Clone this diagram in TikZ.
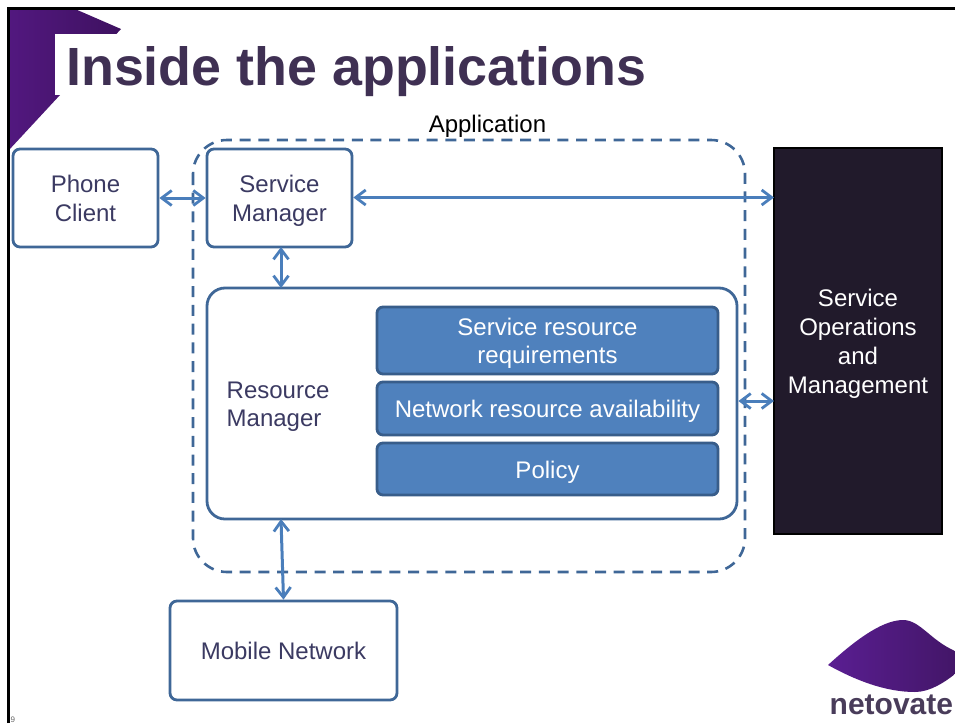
\documentclass[tikz,border=0pt]{standalone}
\usepackage{fontspec}
\setmainfont{Liberation Sans}
\usetikzlibrary{arrows.meta}
\definecolor{boxline}{HTML}{3F6797}
\definecolor{boxfill}{HTML}{4F81BD}
\definecolor{boxedge}{HTML}{385D8A}
\definecolor{arrowline}{HTML}{4A7EBB}
\definecolor{bodytext}{HTML}{3B3A62}
\definecolor{titletext}{HTML}{3F3053}
\definecolor{opsfill}{HTML}{211A2B}
\definecolor{cornerlight}{HTML}{52187F}
\definecolor{cornerdark}{HTML}{3E1160}
\definecolor{logomid}{HTML}{7527AF}
\definecolor{logoleft}{HTML}{5A1E92}
\definecolor{logoright}{HTML}{431668}
\newcommand{\firstrow}{\rule{0pt}{24pt}}
\newcommand{\lastrow}{\rule[-6pt]{0pt}{0pt}}
\tikzset{
  bodyfont/.style={font=\fontsize{24}{28.8}\selectfont, align=center},
  oneline/.style={execute at begin node=\rule{0pt}{24pt}, execute at end node=\rule[-6pt]{0pt}{0pt}},
  plainbox/.style={draw=boxline, line width=2.8pt, rounded corners=7pt, fill=white,
    text=bodytext, bodyfont, inner sep=0pt},
  solidbox/.style={draw=boxedge, line width=2.8pt, rounded corners=6pt, fill=boxfill,
    text=white, bodyfont, inner sep=0pt},
  link/.style={draw=arrowline, line width=3pt, {Straight Barb[length=10pt,width=15pt,line width=2.8pt]}-{Straight Barb[length=10pt,width=15pt,line width=2.8pt]}}
}
\begin{document}
\begin{tikzpicture}[x=1pt, y=-1pt]
  \useasboundingbox (0, 0) rectangle (955, 723);
  \clip (0, 0) rectangle (955, 723);
  % Draw the slide corner and its frame
  \begin{scope}
    \shade[left color=cornerlight, right color=cornerdark, draw=none]
      (9, 9) -- (75, 9) -- (121, 29) -- (60, 95) -- (9, 150) -- cycle;
    \fill[white] (55, 34) rectangle (400, 95);
    \draw[line width=3pt, black] (8.5, 723) -- (8.5, 8.5) -- (955, 8.5);
  \end{scope}
  \node[anchor=base west, inner sep=0pt, text=titletext, font=\fontsize{53.8}{60}\selectfont\bfseries]
    (title) at (66, 85) {Inside the applications};
  \node[anchor=base west, inner sep=0pt, text=black!60, font=\fontsize{8}{8}\selectfont]
    (pagenum) at (10.5, 722) {9};
  % Draw the application boundary
  \draw[boxline, line width=2.6pt, dash pattern=on 11pt off 7.7pt, rounded corners=34pt]
    (193, 140) rectangle (745, 572);
  \node[anchor=base, inner sep=0pt, text=black, bodyfont] (application) at (487.5, 132) {Application};
  % Draw the boxes
  \node[plainbox, minimum width=145pt, minimum height=98pt] (phone) at (85.5, 198) {\firstrow Phone\\Client\lastrow};
  \node[plainbox, minimum width=145pt, minimum height=98pt] (service) at (279.5, 198) {\firstrow Service\\Manager\lastrow};
  \node[plainbox, minimum width=530pt, minimum height=231pt, rounded corners=18pt] (resource) at (472, 403.5) {};
  \node[text=bodytext, bodyfont, align=left, anchor=west, inner sep=0pt] (resourcelabel) at (226.5, 403.5) {\firstrow Resource\\Manager\lastrow};
  \node[plainbox, oneline, minimum width=227pt, minimum height=99pt] (mobile) at (283.5, 650.5) {Mobile Network};
  \node[draw=black, line width=2.4pt, fill=opsfill, text=white, bodyfont, inner sep=0pt,
    minimum width=168pt, minimum height=386pt] (ops) at (858, 341) {\firstrow Service\\Operations\\and\\Management\lastrow};
  % Draw the three inner blocks
  \node[solidbox, minimum width=341pt, minimum height=67pt] (requirements) at (547.5, 340.5) {\firstrow Service resource\\requirements\lastrow};
  \node[solidbox, oneline, minimum width=341pt, minimum height=53pt] (availability) at (547.5, 408.5) {Network resource availability};
  \node[solidbox, oneline, minimum width=341pt, minimum height=52pt] (policy) at (547.5, 469) {Policy};
  % Draw the connectors
  \coordinate (opsport) at (774, 401);
  \coordinate (opsportup) at (774, 197.5);
  \coordinate (servicedown) at (281, 247);
  \coordinate (resourcetop) at (281, 288);
  \coordinate (resourcefoot) at (281, 519);
  \draw[link] (phone) -- (service);
  \draw[link] (service.east |- opsportup) -- (opsportup);
  \draw[link] (servicedown) -- (resourcetop);
  \draw[link] (opsport -| resource.east) -- (opsport);
  \draw[link] (resourcefoot) -- (mobile.north);
  % Draw the logo
  \shade[left color=logoleft, middle color=logomid, right color=logoright]
    (828, 665) .. controls (850, 645) and (880, 620) .. (903, 620)
    .. controls (920, 620) and (930, 640) .. (955, 651)
    -- (955, 674) .. controls (945, 682) and (930, 692) .. (915, 692)
    .. controls (885, 692) and (855, 680) .. (828, 665) -- cycle;
  \node[anchor=base west, inner sep=0pt, text=titletext!85!gray, font=\fontsize{30}{32}\selectfont\bfseries]
    (brand) at (829.5, 714) {netovate};
\end{tikzpicture}
\end{document}
